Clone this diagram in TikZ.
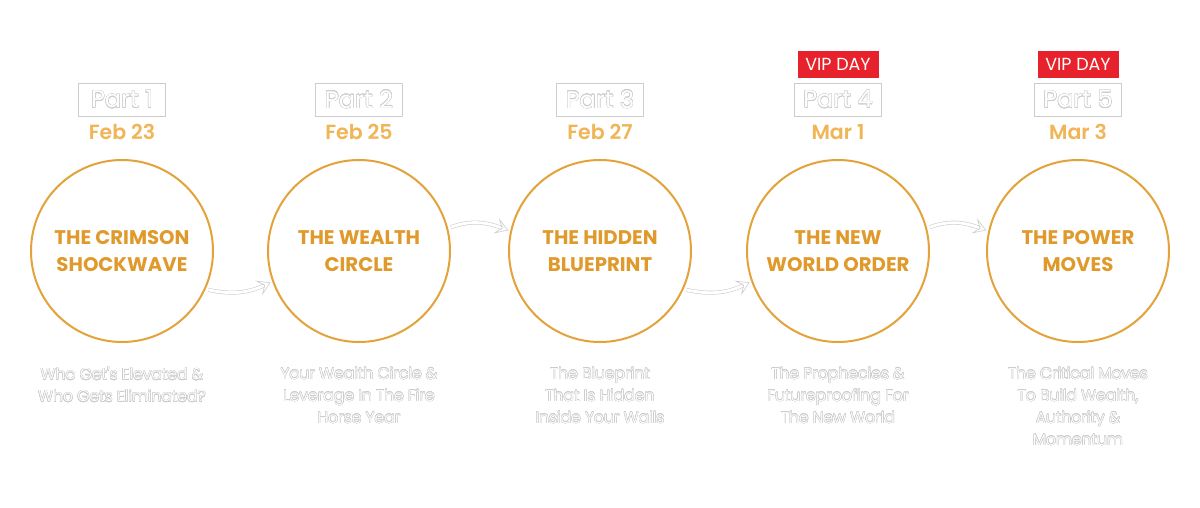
\documentclass[tikz,border=0pt]{standalone}
\usepackage{fontspec}
\setmainfont{Poppins}
\newfontfamily\pbold{Poppins Bold}
\newfontfamily\psemi{Poppins SemiBold}
\newfontfamily\plight{Poppins Light}
\newfontfamily\preg{Poppins}
\newfontfamily\pmed{Poppins Medium}
\usepackage{contour}
\contourlength{0.4pt}
\contournumber{16}
\usetikzlibrary{arrows.meta}
\definecolor{ring}{HTML}{E3A23A}
\definecolor{titleor}{HTML}{E09A2C}
\definecolor{dateor}{HTML}{F0B556}
\definecolor{vipred}{HTML}{E8222C}
\definecolor{outl}{HTML}{CDCDCD}
\newcommand{\ol}[1]{\contour{outl}{\textcolor{white}{#1}}}
\tikzset{
  circ/.style={circle, draw=ring, line width=2pt, minimum size=182pt, inner sep=0pt},
  ctitle/.style={text=titleor, font=\pbold\fontsize{19.7}{27.5}\selectfont, align=center},
  partbox/.style={draw=outl, line width=0.9pt, minimum width=87pt, minimum height=33pt, inner sep=0pt, font=\preg\fontsize{24}{24}\selectfont},
  datetxt/.style={text=dateor, font=\psemi\fontsize{20.5}{22}\selectfont},
  vip/.style={fill=vipred, text=white, minimum width=81pt, minimum height=27pt, inner sep=0pt, font=\preg\fontsize{17.5}{18}\selectfont},
  desc/.style={font=\plight\fontsize{15.6}{22}\selectfont, align=center},
  conn/.style={draw=outl, double=white, double distance=2.8pt, line width=0.6pt,
    -{Stealth[length=13pt,width=16pt,open,inset=6pt]}}
}
\begin{document}
\begin{tikzpicture}[x=1pt,y=-1pt]
\useasboundingbox[fill=white] (0,0) rectangle (1200,508);
% circles
\node[circ] (c1) at (122,251) {};
\node[circ] (c2) at (359,251) {};
\node[circ] (c3) at (600,251) {};
\node[circ] (c4) at (838,251) {};
\node[circ] (c5) at (1078,251) {};
% titles
\node[ctitle] (t1) at (122,251) {THE CRIMSON\\SHOCKWAVE};
\node[ctitle] (t2) at (359,251) {THE WEALTH\\CIRCLE};
\node[ctitle] (t3) at (600,251) {THE HIDDEN\\BLUEPRINT};
\node[ctitle] (t4) at (838,251) {THE NEW\\WORLD ORDER};
\node[ctitle] (t5) at (1078,251) {THE POWER\\MOVES};
% part boxes
\node[partbox] (p1) at (122,99.5) {\ol{Part 1}};
\node[partbox] (p2) at (359,99.5) {\ol{Part 2}};
\node[partbox] (p3) at (600,99.5) {\ol{Part 3}};
\node[partbox] (p4) at (838,99.5) {\ol{Part 4}};
\node[partbox] (p5) at (1078,99.5) {\ol{Part 5}};
% dates
\node[datetxt] (d1) at (122,132) {Feb 23};
\node[datetxt] (d2) at (359,132) {Feb 25};
\node[datetxt] (d3) at (600,132) {Feb 27};
\node[datetxt] (d4) at (838,132) {Mar 1};
\node[datetxt] (d5) at (1078,132) {Mar 3};
% vip
\node[vip] (v4) at (838,64.5) {VIP DAY};
\node[vip] (v5) at (1078,64.5) {VIP DAY};
% descriptions
\node[desc, anchor=north] (e1) at (122,364) {\ol{Who Get's Elevated \&}\\\ol{Who Gets Eliminated?}};
\node[desc, anchor=north] (e2) at (359,364) {\ol{Your Wealth Circle \&}\\\ol{Leverage In The Fire}\\\ol{Horse Year}};
\node[desc, anchor=north] (e3) at (600,364) {\ol{The Blueprint}\\\ol{That Is Hidden}\\\ol{Inside Your Walls}};
\node[desc, anchor=north] (e4) at (838,364) {\ol{The Prophecies \&}\\\ol{Futureproofing For}\\\ol{The New World}};
\node[desc, anchor=north] (e5) at (1078,364) {\ol{The Critical Moves}\\\ol{To Build Wealth,}\\\ol{Authority \&}\\\ol{Momentum}};
% connectors
\draw[conn] ([shift={(3pt,0pt)}]c1.-25) to[out=-12,in=205] ([shift={(-2pt,0pt)}]c2.200);
\draw[conn] ([shift={(3pt,0pt)}]c2.15) to[out=20,in=160] ([shift={(-2pt,0pt)}]c3.167);
\draw[conn] ([shift={(3pt,0pt)}]c3.-25) to[out=-12,in=205] ([shift={(-2pt,0pt)}]c4.200);
\draw[conn] ([shift={(3pt,0pt)}]c4.15) to[out=20,in=160] ([shift={(-2pt,0pt)}]c5.167);
\end{tikzpicture}
\end{document}
